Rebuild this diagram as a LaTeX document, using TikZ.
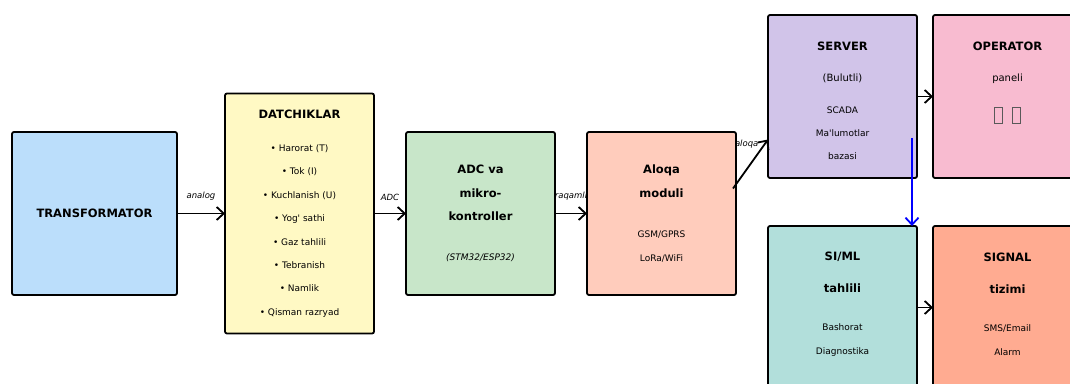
\documentclass[tikz,border=0pt]{standalone}
\usepackage{fontspec}
\setmainfont{DejaVu Sans}
\usepackage{tikz}
\usetikzlibrary{arrows.meta,positioning}

\definecolor{trafoC}{HTML}{BBDEFB}
\definecolor{datC}{HTML}{FFF9C4}
\definecolor{adcC}{HTML}{C8E6C9}
\definecolor{aloqaC}{HTML}{FFCCBC}
\definecolor{serverC}{HTML}{D1C4E9}
\definecolor{operC}{HTML}{F8BBD0}
\definecolor{simlC}{HTML}{B2DFDB}
\definecolor{signalC}{HTML}{FFAB91}

\newcommand{\ttl}{\fontsize{11.5}{14}\selectfont\bfseries}
\newcommand{\sml}{\fontsize{9}{11}\selectfont}
\newcommand{\mdl}{\fontsize{10}{12}\selectfont}
\newcommand{\tofu}{\textcolor{black!65}{\fboxsep=0pt\fboxrule=0.9pt\fbox{\rule{0pt}{15pt}\hspace{7pt}}}}

\begin{document}
\begin{tikzpicture}[x=1pt,y=1pt,->,>={Straight Barb[length=7pt,width=13pt]},
                    line width=1.8pt,
                    box/.style={draw,rounded corners=2pt,align=center,inner sep=0pt,outer sep=0pt,
                                minimum width=149pt,minimum height=163pt},
                    lbl/.style={font=\fontsize{8.5}{10}\selectfont\itshape,inner sep=1pt}]
\useasboundingbox (0,0) rectangle (1070,383);

\node[box,fill=trafoC,minimum width=165pt] (trafo) at (94.5,169.5) {\ttl TRANSFORMATOR};
\node[box,fill=datC,minimum height=240pt,right=48pt of trafo,
      font=\fontsize{9}{23.4}\selectfont] (dat)
  {{\ttl DATCHIKLAR}\\[9.6pt]
   • Harorat (T)\\ • Tok (I)\\ • Kuchlanish (U)\\ • Yog\textquotesingle{} sathi\\
   • Gaz tahlili\\ • Tebranish\\ • Namlik\\ • Qisman razryad};
\node[box,fill=adcC,right=32pt of dat,font=\fontsize{11.5}{23.5}\selectfont\bfseries] (adc)
  {ADC va\\ mikro-\\ kontroller\\[16.5pt] {\sml\mdseries\itshape (STM32/ESP32)}};
\node[box,fill=aloqaC,right=32pt of adc,font=\fontsize{11.5}{23.5}\selectfont\bfseries] (aloqa)
  {Aloqa\\ moduli\\[16.5pt] {\sml\mdseries GSM/GPRS}\\[0.5pt] {\sml\mdseries LoRa/WiFi}};
\node[box,fill=serverC,right=32pt of aloqa,yshift=117pt,font=\fontsize{9}{23}\selectfont] (server)
  {~\\[-5pt] {\ttl SERVER}\\[8pt] {\mdl (Bulutli)}\\[9pt] SCADA\\ Ma\textquotesingle lumotlar\\ bazasi};
\node[box,fill=operC,right=16pt of server,font=\fontsize{9}{23}\selectfont] (oper)
  {{\ttl OPERATOR}\\[8pt] {\mdl paneli}\\[19pt] \tofu\hspace{9pt}\tofu\\[5pt] ~};
\node[box,fill=simlC,below=48pt of server,font=\fontsize{9}{24}\selectfont] (siml)
  {{\ttl SI/ML}\\[8pt] {\ttl tahlili}\\[14pt] Bashorat\\ Diagnostika\\[-16pt] ~};
\node[box,fill=signalC,right=16pt of siml,font=\fontsize{9}{24}\selectfont] (signal)
  {{\ttl SIGNAL}\\[8pt] {\ttl tizimi}\\[14pt] SMS/Email\\ Alarm\\[-17pt] ~};

\path
(trafo) edge node[lbl,above=11pt] {analog} (dat)
(dat) edge node[lbl,above=11pt] {ADC} (adc)
(adc) edge node[lbl,above=11pt] {raqamli} (aloqa)
([xshift=-3pt,yshift=25pt]aloqa.east) edge node[lbl,pos=0.78,above left=0pt] {aloqa}
    ([yshift=-43pt]server.west)
(server) edge (oper)
(siml) edge (signal);
\draw[blue] ([xshift=-5pt,yshift=40pt]server.south east) -- ([xshift=-5pt]siml.north east);
\end{tikzpicture}
\end{document}
